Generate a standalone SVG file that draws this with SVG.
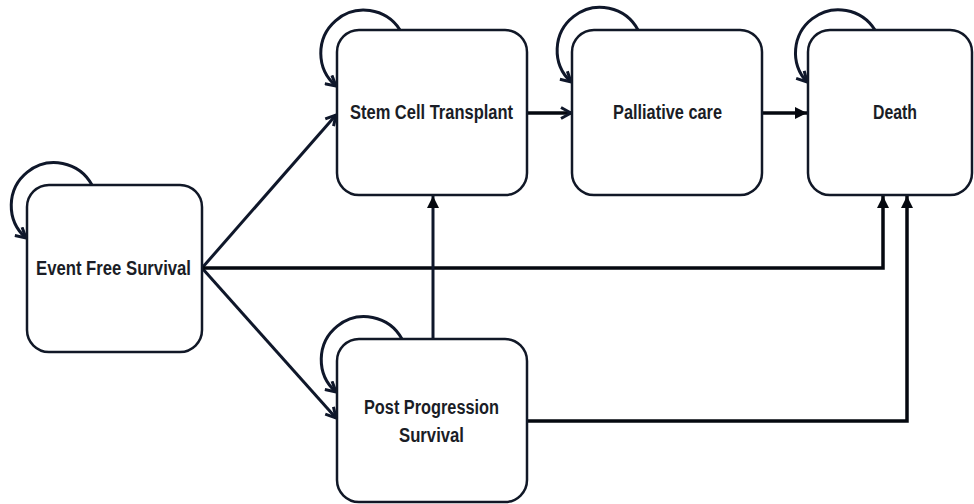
<svg xmlns="http://www.w3.org/2000/svg" width="974" height="504" viewBox="0 0 974 504">
<style>
.box{fill:#fff;stroke:#111827;stroke-width:2.5}
.lbl{font-family:"Liberation Sans Narrow","Liberation Sans",Arial,sans-serif;font-weight:bold;font-size:20px;fill:#1a1d26;text-anchor:middle}
.loop{fill:none;stroke:#0f172a;stroke-width:3}
.con{fill:none;stroke:#05080f;stroke-width:3.5}
.diag{fill:none;stroke:#0f172a;stroke-width:3}
</style>
<defs>
<marker id="tri" markerUnits="userSpaceOnUse" markerWidth="14" markerHeight="14" refX="13" refY="7" orient="auto">
<path d="M1,1 L13,7 L1,13 z" fill="#05080f"/>
</marker>
<marker id="chev" markerUnits="userSpaceOnUse" markerWidth="14" markerHeight="14" refX="12" refY="7" orient="auto">
<path d="M2,1.5 L12,7 L2,12.5" fill="none" stroke="#0f172a" stroke-width="3"/>
</marker>
</defs>
<rect width="974" height="504" fill="#fff"/>
<g id="connectors">
<path class="diag" d="M202 268 L336 115" marker-end="url(#chev)"/>
<path class="diag" d="M202 268 L336 418" marker-end="url(#chev)"/>
<path class="con" d="M202 268 H883 V196" marker-end="url(#tri)"/>
<path class="con" d="M527 421 H907 V196" marker-end="url(#tri)"/>
<path class="diag" d="M433 339 V196" marker-end="url(#tri)"/>
<path class="con" d="M527 113 H571" marker-end="url(#chev)"/>
<path class="con" d="M762 113 H807" marker-end="url(#tri)"/>
<path class="loop" d="M92 185 A43 43 0 1 0 26 238" marker-end="url(#chev)"/>
<path class="loop" d="M400 30 A43 43 0 1 0 336 86" marker-end="url(#chev)"/>
<path class="loop" d="M638 30 A43 43 0 1 0 571 82" marker-end="url(#chev)"/>
<path class="loop" d="M875 30 A43 43 0 1 0 807 82" marker-end="url(#chev)"/>
<path class="loop" d="M402 339 A43 43 0 1 0 336 392" marker-end="url(#chev)"/>
</g>
<g id="event-free-survival">
<rect class="box" x="27" y="185" width="175" height="167" rx="22"/>
<text class="lbl" x="113.5" y="275" textLength="155" lengthAdjust="spacingAndGlyphs">Event Free Survival</text>
</g>
<g id="stem-cell-transplant">
<rect class="box" x="337" y="30" width="190" height="165" rx="22"/>
<text class="lbl" x="431.5" y="119" textLength="163" lengthAdjust="spacingAndGlyphs">Stem Cell Transplant</text>
</g>
<g id="palliative-care">
<rect class="box" x="572" y="30" width="190" height="165" rx="22"/>
<text class="lbl" x="667.5" y="119" textLength="109" lengthAdjust="spacingAndGlyphs">Palliative care</text>
</g>
<g id="death">
<rect class="box" x="808" y="30" width="164" height="165" rx="22"/>
<text class="lbl" x="895" y="119" textLength="44" lengthAdjust="spacingAndGlyphs">Death</text>
</g>
<g id="post-progression-survival">
<rect class="box" x="337" y="339" width="190" height="163" rx="22"/>
<text class="lbl" x="431.5" y="414" textLength="135" lengthAdjust="spacingAndGlyphs">Post Progression</text>
<text class="lbl" x="431.5" y="442" textLength="65" lengthAdjust="spacingAndGlyphs">Survival</text>
</g>
</svg>
